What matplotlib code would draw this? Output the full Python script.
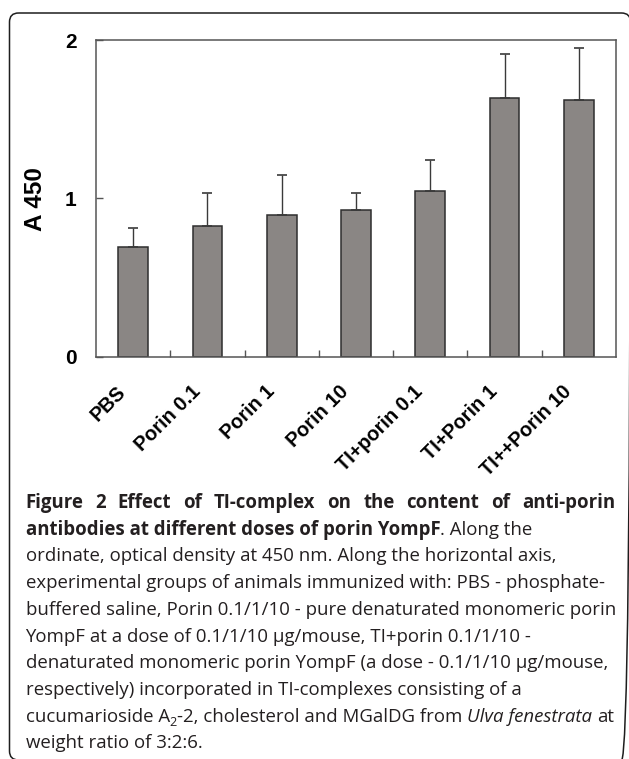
import matplotlib
matplotlib.use("Agg")
import matplotlib.pyplot as plt
import matplotlib.transforms as mtransforms
from matplotlib.patches import FancyBboxPatch
from matplotlib.ticker import FixedLocator

categories = ["PBS", "Porin 0.1", "Porin 1", "Porin 10", "TI+porin 0.1", "TI+Porin 1", "TI++Porin 10"]
means = [0.695, 0.827, 0.895, 0.927, 1.047, 1.632, 1.623]
err_upper = [0.122, 0.205, 0.255, 0.105, 0.196, 0.282, 0.329]
yticks = [0, 1, 2]

W, H = 629, 759
fig = plt.figure(figsize=(W / 100, H / 100), dpi=100)

# chart axes (pixel box: left 96, right 616, top 40, bottom 357)
ax = fig.add_axes([96 / W, 1 - 357 / H, (616 - 96) / W, (357 - 40) / H])
x = list(range(len(categories)))
ax.bar(x, means, width=0.40, color="#8a8684", edgecolor="#2e2e2e", linewidth=1.1, zorder=2)
ax.errorbar(x, means, yerr=[[0] * len(means), err_upper], fmt="none", ecolor="#3a3a3a",
            elinewidth=1.0, capsize=3.6, capthick=1.2, zorder=3)
ax.set_xlim(-0.5, len(categories) - 0.5)
ax.set_ylim(0, 2)
ax.set_yticks(yticks)
ax.set_yticklabels([str(t) for t in yticks], fontsize=15, fontweight="bold", family="Liberation Sans")
ax.tick_params(axis="y", direction="in", length=5, width=1, color="#555555", pad=14)
ax.set_xticks(x)
ax.set_xticklabels(categories, rotation=45, ha="right", rotation_mode="anchor",
                   fontsize=14.3, fontweight="bold", family="Liberation Sans")
ax.tick_params(axis="x", which="major", length=0, pad=18)
offset = mtransforms.ScaledTranslation(-17 / 100, 0, fig.dpi_scale_trans)
for lbl in ax.get_xticklabels():
    lbl.set_transform(lbl.get_transform() + offset)
ax.xaxis.set_minor_locator(FixedLocator([i + 0.5 for i in range(len(categories) - 1)]))
ax.tick_params(axis="x", which="minor", direction="in", length=5, width=1, color="#555555")
for s in ax.spines.values():
    s.set_color("#555555")
    s.set_linewidth(1.1)
ax.set_ylabel("A 450", fontsize=17.5, fontweight="bold", family="Liberation Sans")
ax.yaxis.set_label_coords(-(96 - 47) / (616 - 96), (357 - 199) / (357 - 40))

# overlay in pixel coordinates
ov = fig.add_axes([0, 0, 1, 1], zorder=-1)
ov.set_xlim(0, W)
ov.set_ylim(H, 0)
ov.axis("off")
box = FancyBboxPatch((9.5, 13), 621, 747, boxstyle="round,pad=0,rounding_size=9",
                     fill=False, edgecolor="#1e1e1e", linewidth=1.1)
ov.add_patch(box)

fig.canvas.draw()
renderer = fig.canvas.get_renderer()

cap_font = "Open Sans"
cap_size = 13.4
bold_size = 13.4
cap_color = "#231f20"


def make_text(xc, y, s, size=None, weight="normal", style="normal"):
    if size is None:
        size = bold_size if weight == "bold" else cap_size
    return ov.text(xc, y, s, fontsize=size, family=cap_font, fontweight=weight,
                   fontstyle=style, color=cap_color, va="baseline", ha="left")


def width_of(s, **kw):
    t = make_text(0, 0, s, **kw)
    w = t.get_window_extent(renderer).width
    t.remove()
    return w


space_w = width_of("a a") - width_of("aa")


def line(pieces, y, x0=25.5):
    xc = x0
    for p in pieces:
        if p.get("gap"):
            xc += space_w
            continue
        t = make_text(xc, y + p.get("dy", 0), p["s"], size=p.get("size"),
                      weight=p.get("weight", "normal"), style=p.get("style", "normal"))
        xc = t.get_window_extent(renderer).x1


def justified(text, y, x0, x1, weight="normal"):
    words = text.split(" ")
    widths = [width_of(w, weight=weight) for w in words]
    gap = (x1 - x0 - sum(widths)) / (len(words) - 1)
    xc = x0
    for w, wd in zip(words, widths):
        make_text(xc, y, w, weight=weight)
        xc += wd + gap


base = 508
step = 26.7
justified("Figure 2 Effect of TI-complex on the content of anti-porin", base, 25.5, 615, weight="bold")

caption_lines = [
    [{"s": "antibodies at different doses of porin YompF", "weight": "bold"}, {"s": ". Along the"}],
    [{"s": "ordinate, optical density at 450 nm. Along the horizontal axis,"}],
    [{"s": "experimental groups of animals immunized with: PBS - phosphate-"}],
    [{"s": "buffered saline, Porin 0.1/1/10 - pure denaturated monomeric porin"}],
    [{"s": "YompF at a dose of 0.1/1/10 µg/mouse, TI+porin 0.1/1/10 -"}],
    [{"s": "denaturated monomeric porin YompF (a dose - 0.1/1/10 µg/mouse,"}],
    [{"s": "respectively) incorporated in TI-complexes consisting of a"}],
    [{"s": "cucumarioside A"}, {"s": "2", "size": 9.2, "dy": 4.5}, {"s": "-2, cholesterol and MGalDG from"},
     {"gap": True}, {"s": "Ulva fenestrata", "style": "italic"}, {"gap": True}, {"s": "at"}],
    [{"s": "weight ratio of 3:2:6."}],
]
for i, pcs in enumerate(caption_lines):
    line(pcs, base + step * (i + 1))

fig.savefig("out.png", dpi=100, facecolor="white")
